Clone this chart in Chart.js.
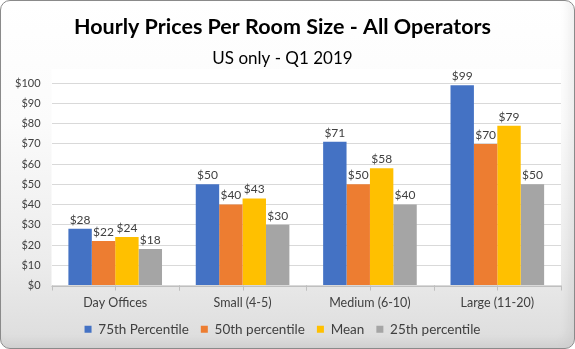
<!DOCTYPE html>
<html>
<head>
<meta charset="utf-8">
<script src="https://cdn.jsdelivr.net/npm/chart.js@4/dist/chart.umd.min.js"></script>
<style>
  html, body { margin: 0; padding: 0; background: #ffffff; }
  #wrap {
    position: relative; width: 575px; height: 349px; box-sizing: border-box;
    border: 1px solid #8a8a8a; border-radius: 10px; overflow: hidden;
    background: linear-gradient(to bottom, #ffffff 0%, #fbfbfb 35%, #ececec 75%, #dcdcdc 100%);
    box-shadow: inset -6px -6px 10px rgba(0,0,0,0.06);
  }
  canvas { position: absolute; left: -1px; top: -1px; }
</style>
</head>
<body>
<div id="wrap"><canvas id="c" width="575" height="349"></canvas></div>
<script>
const categories = ["Day Offices", "Small (4-5)", "Medium (6-10)", "Large (11-20)"];
const seriesNames = ["75th Percentile", "50th percentile", "Mean", "25th percentile"];
const p75 = [28, 50, 71, 99];
const p50 = [22, 40, 50, 70];
const mean = [24, 43, 58, 79];
const p25 = [18, 30, 40, 50];
const yTicks = [0, 10, 20, 30, 40, 50, 60, 70, 80, 90, 100];
const colors = ["#4472C4", "#ED7D31", "#FFC000", "#A5A5A5"];

const FONT = "Lato, 'Open Sans', sans-serif";

const plotBg = {
  id: 'plotBg',
  beforeDraw(chart) {
    const { ctx, chartArea: a } = chart;
    ctx.save();
    ctx.fillStyle = '#ffffff';
    ctx.fillRect(a.left, a.top - 14, a.right - a.left, a.bottom - a.top + 14);
    ctx.restore();
  }
};

const extraTicks = {
  id: 'extraTicks',
  afterDatasetsDraw(chart) {
    const { ctx } = chart;
    const x = chart.scales.x;
    const y = chart.scales.y;
    const y0 = y.getPixelForValue(0);
    ctx.save();
    ctx.strokeStyle = '#bfbfbf';
    ctx.lineWidth = 1;
    ctx.beginPath();
    ctx.moveTo(x.left, Math.round(y0) + 0.5);
    ctx.lineTo(x.right, Math.round(y0) + 0.5);
    for (let i = 0; i < categories.length; i++) {
      const c = x.getPixelForValue(i);
      const half = (x.getPixelForValue(1) - x.getPixelForValue(0)) / 2;
      [c - half, c, c + half].forEach(px => {
        const xx = Math.round(px) + 0.5;
        ctx.moveTo(xx, y0);
        ctx.lineTo(xx, y0 + 5);
      });
    }
    ctx.stroke();
    ctx.restore();
  }
};

const valueLabels = {
  id: 'valueLabels',
  afterDatasetsDraw(chart) {
    const { ctx } = chart;
    ctx.save();
    ctx.font = "12px " + FONT;
    ctx.fillStyle = '#404040';
    ctx.textAlign = 'center';
    ctx.textBaseline = 'bottom';
    chart.data.datasets.forEach((ds, di) => {
      const meta = chart.getDatasetMeta(di);
      meta.data.forEach((bar, i) => {
        ctx.fillText('$' + ds.data[i], bar.x, bar.y - 3);
      });
    });
    ctx.restore();
  }
};

new Chart(document.getElementById('c'), {
  type: 'bar',
  data: {
    labels: categories,
    datasets: [
      { label: seriesNames[0], data: p75, backgroundColor: colors[0] },
      { label: seriesNames[1], data: p50, backgroundColor: colors[1] },
      { label: seriesNames[2], data: mean, backgroundColor: colors[2] },
      { label: seriesNames[3], data: p25, backgroundColor: colors[3] }
    ]
  },
  options: {
    responsive: false,
    animation: false,
    devicePixelRatio: 1,
    layout: { padding: { left: 4, right: 14, top: 0, bottom: 3 } },
    datasets: { bar: { categoryPercentage: 0.735, barPercentage: 1.0 } },
    plugins: {
      title: {
        display: true,
        text: 'Hourly Prices Per Room Size - All Operators',
        color: '#000000',
        font: { family: FONT, size: 21.5, weight: 'bold' },
        padding: { top: 14, bottom: 9 }
      },
      subtitle: {
        display: true,
        text: 'US only - Q1 2019',
        color: '#000000',
        font: { family: FONT, size: 17 },
        padding: { top: 0, bottom: 14 }
      },
      legend: {
        position: 'bottom',
        labels: {
          boxWidth: 7, boxHeight: 7, padding: 12,
          color: '#404040',
          font: { family: FONT, size: 13.5 },
          generateLabels(chart) {
            const items = Chart.defaults.plugins.legend.labels.generateLabels(chart);
            items.forEach(it => { it.lineWidth = 0; });
            return items;
          }
        }
      },
      tooltip: { enabled: false }
    },
    scales: {
      x: {
        afterFit(scale) { scale.height -= 10; },
        grid: { display: false, drawTicks: false },
        border: { display: false },
        ticks: { color: '#404040', font: { family: FONT, size: 12.5 }, padding: 10 }
      },
      y: {
        min: 0, max: 100,
        afterBuildTicks(scale) { scale.ticks = yTicks.map(v => ({ value: v })); },
        grid: { color: '#d9d9d9', drawTicks: false },
        border: { display: false },
        ticks: {
          color: '#404040', padding: 11,
          font: { family: FONT, size: 11 },
          callback: v => '$' + v
        }
      }
    }
  },
  plugins: [plotBg, extraTicks, valueLabels]
});
</script>
</body>
</html>
